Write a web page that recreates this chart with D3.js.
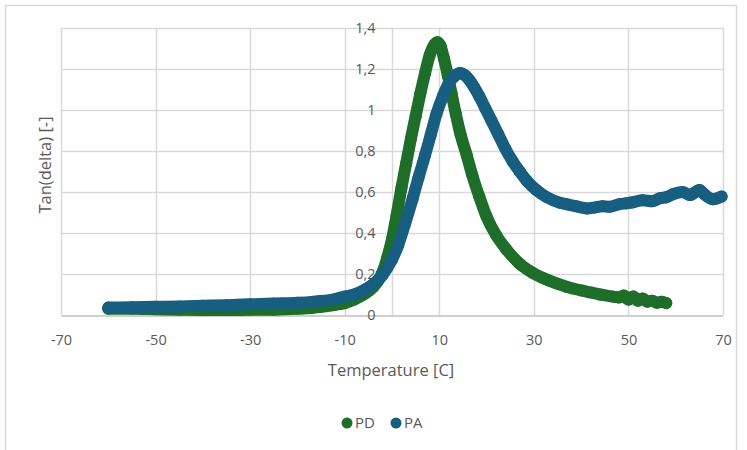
<!DOCTYPE html>
<html><head><meta charset="utf-8">
<script src="https://cdn.jsdelivr.net/npm/d3@7"></script>
<style>body{margin:0;background:#fff}svg{display:block}text{font-family:"Open Sans",sans-serif;fill:#595959}</style>
</head><body><svg id="c" width="747" height="450"></svg>
<script>
const xTicks = [-70,-50,-30,-10,10,30,50,70];
const yTicks = [0,0.2,0.4,0.6,0.8,1,1.2,1.4];
const seriesNames = ["PD","PA"];
const seriesColors = ["#1e6e2a","#175e80"];
const pdTemp = [-60,-55,-50,-45,-40,-35,-30,-25,-20,-17,-15,-12,-10,-8,-6,-4,-3,-2,-1,0,1,2,3,4,5,6,7,8,9,9.6,10.3,11,11.8,12.6,13.5,14.5,15.8,17,18.5,20,22,24.2,27,29.8,33,36.9,40,42,44,46.7,48,49,50,51,52,53,54,55,56,57,58];
const pdVal  = [0.03,0.03,0.028,0.026,0.024,0.024,0.025,0.026,0.03,0.034,0.04,0.05,0.058,0.075,0.1,0.135,0.165,0.21,0.28,0.37,0.49,0.62,0.74,0.86,0.97,1.08,1.18,1.27,1.32,1.33,1.31,1.25,1.17,1.08,0.98,0.88,0.78,0.68,0.575,0.48,0.39,0.32,0.25,0.205,0.17,0.138,0.12,0.11,0.1,0.09,0.085,0.095,0.075,0.09,0.07,0.08,0.065,0.07,0.06,0.065,0.058];
const paTemp = [-60,-55,-50,-45,-40,-35,-30,-25,-20,-17,-15,-12,-10,-8,-6,-4,-3,-2,-1,0,1.3,2.7,4.4,5.6,7,8.2,9.4,10.8,12,13.2,14.4,15.4,16.4,17.4,18.5,19.7,21,22.5,24,25.5,27,28.5,30.5,32.7,35.5,37,39,41.2,43,44.5,46,48,49.6,51,53,55,56.7,58,59.5,61.5,63,65,66,67.9,69.7];
const paVal  = [0.036,0.038,0.04,0.042,0.045,0.048,0.052,0.056,0.06,0.064,0.068,0.078,0.09,0.1,0.12,0.15,0.17,0.195,0.23,0.27,0.34,0.44,0.57,0.67,0.78,0.88,0.98,1.07,1.13,1.165,1.18,1.17,1.145,1.11,1.065,1.01,0.95,0.88,0.81,0.75,0.7,0.655,0.61,0.575,0.548,0.54,0.53,0.52,0.525,0.53,0.528,0.54,0.545,0.55,0.56,0.555,0.57,0.575,0.59,0.6,0.585,0.61,0.59,0.565,0.578];

const svg = d3.select("#c");
svg.append("rect").attr("x",5.5).attr("y",5.5).attr("width",731).attr("height",470)
  .attr("fill","#fff").attr("stroke","#d9d9d9").attr("stroke-width",1.5);

const x = d3.scaleLinear().domain([-70,70]).range([61,723]);
const y = d3.scaleLinear().domain([0,1.4]).range([315,28]);
const fmt = d => d3.format("~g")(d).replace(".",",");

// gridlines
svg.append("g").selectAll("line.h").data(yTicks.slice(1)).join("line")
  .attr("x1",x(-70)).attr("x2",x(70)).attr("y1",d=>Math.round(y(d))+0.5).attr("y2",d=>Math.round(y(d))+0.5)
  .attr("stroke","#d9d9d9").attr("stroke-width",1.5);
svg.append("g").selectAll("line.v").data(xTicks.concat([0])).join("line")
  .attr("x1",d=>Math.round(x(d))+0.5).attr("x2",d=>Math.round(x(d))+0.5).attr("y1",y(1.4)).attr("y2",y(0))
  .attr("stroke","#d9d9d9").attr("stroke-width",1.5);

// x axis
const xAxis = svg.append("g").attr("transform",`translate(0,${Math.round(y(0))+0.5})`)
  .call(d3.axisBottom(x).tickValues(xTicks).tickSize(0).tickPadding(19).tickFormat(d=>d));
xAxis.select(".domain").attr("stroke","#bfbfbf").attr("stroke-width",1.5);
xAxis.selectAll("text").attr("font-size",14.5).style("font-family","'Open Sans',sans-serif").attr("fill","#595959");

// y axis at x=0
const yAxis = svg.append("g").attr("transform",`translate(${Math.round(x(0))+0.5},0)`)
  .call(d3.axisLeft(y).tickValues(yTicks).tickSize(0).tickPadding(17).tickFormat(fmt));
yAxis.select(".domain").remove();
yAxis.selectAll("text").attr("font-size",14.5).style("font-family","'Open Sans',sans-serif").attr("fill","#595959");

// axis titles
svg.append("text").attr("x",391).attr("y",376).attr("text-anchor","middle").attr("font-size",16.5).text("Temperature [C]");
svg.append("text").attr("transform","translate(51,165) rotate(-90)").attr("text-anchor","middle").attr("font-size",16.5).text("Tan(delta) [-]");

// series
const series = [
  {name:seriesNames[0], color:seriesColors[0], data:pdTemp.map((t,i)=>[t,pdVal[i]])},
  {name:seriesNames[1], color:seriesColors[1], data:paTemp.map((t,i)=>[t,paVal[i]])}
];
const line = d3.line().x(d=>x(d[0])).y(d=>y(d[1])).curve(d3.curveMonotoneX);
series.forEach(s=>{
  const g = svg.append("g");
  g.append("path").attr("d",line(s.data)).attr("fill","none").attr("stroke",s.color)
    .attr("stroke-width",12).attr("stroke-linecap","round").attr("stroke-linejoin","round");
  g.selectAll("circle").data(s.data).join("circle").attr("cx",d=>x(d[0])).attr("cy",d=>y(d[1])).attr("r",6).attr("fill",s.color);
});

// legend
const leg = svg.append("g");
[[347,355],[396,404]].forEach((p,i)=>{
  leg.append("circle").attr("cx",p[0]).attr("cy",423).attr("r",5.5).attr("fill",seriesColors[i]);
  leg.append("text").attr("x",p[1]).attr("y",428).attr("font-size",15).text(seriesNames[i]);
});
</script></body></html>
